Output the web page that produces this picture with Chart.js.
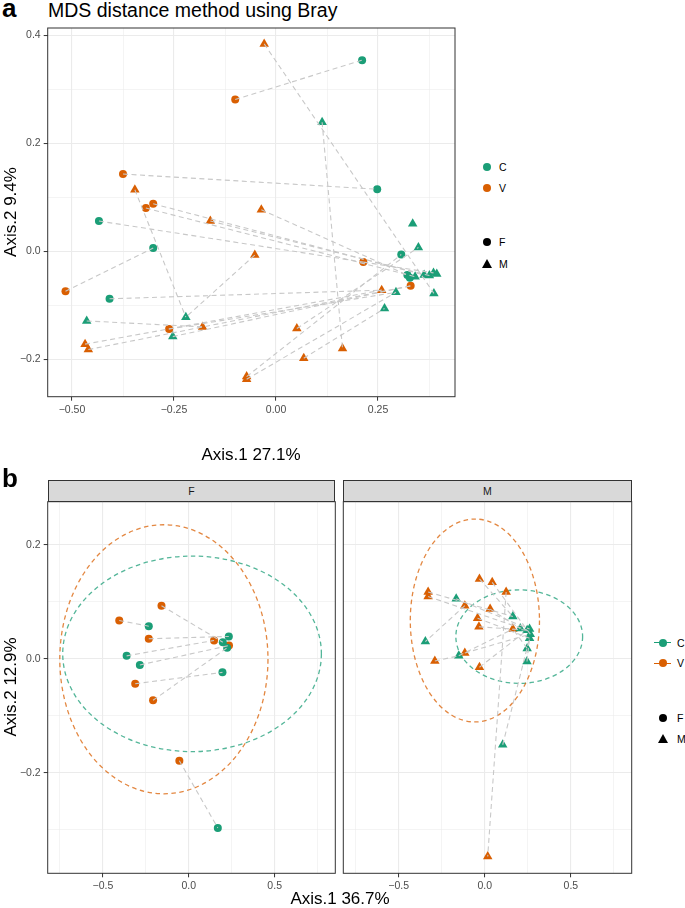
<!DOCTYPE html>
<html>
<head>
<meta charset="utf-8">
<script src="https://cdn.jsdelivr.net/npm/chart.js@4.4.1/dist/chart.umd.min.js"></script>
<style>
  body { margin: 0; width: 685px; height: 908px; position: relative; overflow: hidden; background: #fff;
         font-family: 'Liberation Sans', Arial, sans-serif; color: #000; }
  canvas, .abs { position: absolute; }
  .tag { font-weight: bold; font-size: 26px; line-height: 26px; }
  .ttl { font-size: 19.5px; line-height: 19px; white-space: nowrap; }
  .axt { font-size: 17px; line-height: 20px; height: 20px; width: 200px; text-align: center; white-space: nowrap; }
  .rot { transform: rotate(-90deg); }
  .lt { font-size: 10.5px; line-height: 12px; color: #000; }
  .dot { width: 8px; height: 8px; border-radius: 50%; }
  .tri { width: 0; height: 0; border-left: 5px solid transparent; border-right: 5px solid transparent; border-bottom: 9px solid #000; }
  .strip { background: #D9D9D9; border: 1px solid #333; box-sizing: border-box; font-size: 10.5px; color: #1A1A1A;
           text-align: center; line-height: 20px; }
</style>
</head>
<body>

<div class="abs tag" style="left:2px;top:-5px">a</div>
<div class="abs ttl" style="left:48px;top:1px">MDS distance method using Bray</div>
<canvas id="chartA" width="470" height="470" style="left:0;top:0"></canvas>
<div class="abs axt" style="left:151px;top:445px">Axis.1 27.1%</div>
<div class="abs axt rot" style="left:-89px;top:202px">Axis.2 9.4%</div>

<!-- legend a -->
<div class="abs dot" style="left:483px;top:163px;background:#1B9E77"></div>
<div class="abs lt" style="left:499px;top:161px">C</div>
<div class="abs dot" style="left:483px;top:184px;background:#D95F02"></div>
<div class="abs lt" style="left:499px;top:182px">V</div>
<div class="abs dot" style="left:483px;top:238px;background:#000"></div>
<div class="abs lt" style="left:499px;top:236px">F</div>
<div class="abs tri" style="left:482px;top:259px"></div>
<div class="abs lt" style="left:499px;top:258px">M</div>

<div class="abs tag" style="left:2px;top:465px">b</div>
<div class="abs strip" style="left:47.7px;top:480px;width:287.6px;height:22px">F</div>
<div class="abs strip" style="left:343.3px;top:480px;width:288.4px;height:22px">M</div>
<canvas id="chartF" width="340" height="438" style="left:0;top:470px"></canvas>
<canvas id="chartM" width="307" height="438" style="left:333px;top:470px"></canvas>
<div class="abs axt" style="left:240px;top:889px">Axis.1 36.7%</div>
<div class="abs axt rot" style="left:-89px;top:677px">Axis.2 12.9%</div>

<!-- legend b -->
<div class="abs" style="left:654px;top:642px;width:17px;height:1.3px;background:#1B9E77"></div>
<div class="abs dot" style="left:659px;top:639px;background:#1B9E77"></div>
<div class="abs lt" style="left:677px;top:637px">C</div>
<div class="abs" style="left:654px;top:663px;width:17px;height:1.3px;background:#D95F02"></div>
<div class="abs dot" style="left:659px;top:659px;background:#D95F02"></div>
<div class="abs lt" style="left:677px;top:657px">V</div>
<div class="abs dot" style="left:659px;top:714px;background:#000"></div>
<div class="abs lt" style="left:677px;top:712px">F</div>
<div class="abs tri" style="left:658px;top:734px"></div>
<div class="abs lt" style="left:677px;top:733px">M</div>

<script>
// ---- panel a : MDS (Bray), points as [Axis.1, Axis.2]
const aC_F = [[0.211,0.354],[0.248,0.115],[-0.434,0.056],[-0.301,0.006],[0.307,-0.006],[0.322,-0.044],[0.328,-0.049],[-0.408,-0.088]];
const aC_M = [[0.113,0.239],[0.335,0.051],[0.349,0.007],[0.341,-0.047],[0.363,-0.044],[0.376,-0.045],[0.386,-0.040],[0.394,-0.042],
              [0.387,-0.078],[0.294,-0.076],[0.266,-0.106],[-0.464,-0.129],[-0.221,-0.122],[-0.253,-0.158]];
const aV_F = [[-0.100,0.281],[-0.375,0.143],[-0.319,0.080],[-0.301,0.088],[0.214,-0.020],[0.330,-0.064],[-0.516,-0.074],[-0.262,-0.144]];
const aV_M = [[-0.029,0.384],[-0.346,0.114],[-0.036,0.077],[-0.161,0.056],[-0.052,-0.007],[0.259,-0.072],[-0.180,-0.140],
              [-0.468,-0.172],[-0.460,-0.182],[0.051,-0.143],[0.068,-0.198],[0.163,-0.180],[-0.072,-0.232],[-0.072,-0.237]];
// paired samples, [x1, y1, x2, y2]
const aLinks = [
  [-0.100,0.281,0.211,0.354],[-0.029,0.384,0.387,-0.078],[0.113,0.239,0.163,-0.180],[-0.375,0.143,0.248,0.115],
  [-0.346,0.114,-0.221,-0.122],[-0.319,0.080,0.341,-0.047],[-0.301,0.088,0.363,-0.044],[-0.036,0.077,0.322,-0.044],
  [-0.434,0.056,0.214,-0.020],[-0.161,0.056,0.376,-0.045],[-0.516,-0.074,-0.301,0.006],[-0.052,-0.007,-0.221,-0.122],
  [-0.408,-0.088,0.259,-0.072],[-0.464,-0.129,-0.180,-0.140],[-0.262,-0.144,0.294,-0.076],[-0.253,-0.158,0.330,-0.064],
  [-0.468,-0.172,0.259,-0.072],[-0.460,-0.182,0.330,-0.064],[-0.072,-0.232,0.307,-0.006],[-0.072,-0.237,0.294,-0.076],
  [0.051,-0.143,0.349,0.007],[0.068,-0.198,0.266,-0.106],[0.214,-0.020,0.386,-0.040]
];
const aXMajor = [-0.5, -0.25, 0, 0.25], aXLabels = ['\u22120.50', '\u22120.25', '0.00', '0.25'];
const aXMinor = [-0.375, -0.125, 0.125, 0.375];
const aYMajor = [-0.2, 0, 0.2, 0.4], aYLabels = ['\u22120.2', '0.0', '0.2', '0.4'];
const aYMinor = [-0.1, 0.1, 0.3];

// ---- panel b : facets F and M
const bF_C = [[-0.233,0.057],[0.233,0.039],[0.198,0.029],[0.223,0.019],[-0.362,0.005],[-0.285,-0.011],[0.196,-0.024],[0.169,-0.297]];
const bF_V = [[-0.159,0.093],[-0.405,0.067],[-0.233,0.035],[0.147,0.032],[0.234,0.023],[-0.312,-0.044],[-0.208,-0.073],[-0.055,-0.179]];
const bF_links = [
  [-0.405,0.067,-0.233,0.057],[-0.159,0.093,0.198,0.029],[-0.233,0.035,0.233,0.039],[-0.362,0.005,0.147,0.032],
  [-0.285,-0.011,0.234,0.023],[-0.312,-0.044,0.196,-0.024],[-0.208,-0.073,0.223,0.019],[-0.055,-0.179,0.169,-0.297]
];
const bM_C = [[-0.166,0.105],[0.163,0.074],[0.206,0.053],[0.246,0.050],[0.260,0.052],[0.264,0.043],[0.260,0.036],[0.246,0.018],
              [-0.345,0.030],[-0.151,0.005],[0.245,-0.005],[0.104,-0.151]];
const bM_V = [[-0.031,0.140],[0.043,0.134],[0.124,0.117],[-0.329,0.117],[-0.329,0.109],[-0.116,0.093],[0.031,0.087],
              [-0.042,0.071],[-0.034,0.056],[0.163,0.052],[-0.116,0.010],[-0.290,-0.004],[-0.031,-0.015],[0.017,-0.347]];
const bM_links = [
  [-0.329,0.117,0.163,0.074],[-0.329,0.109,0.246,0.050],[-0.166,0.105,0.260,0.052],[-0.116,0.093,-0.345,0.030],
  [-0.031,0.140,0.163,0.074],[0.043,0.134,0.264,0.043],[0.124,0.117,0.017,-0.347],[0.031,0.087,0.206,0.053],
  [-0.042,0.071,0.260,0.036],[-0.034,0.056,0.246,0.050],[-0.116,0.010,0.264,0.043],[-0.290,-0.004,-0.151,0.005],
  [-0.151,0.005,0.163,0.052],[-0.031,-0.015,0.246,0.050],[0.104,-0.151,0.260,0.036],[0.245,-0.005,0.260,0.036],
  [0.246,0.018,0.163,0.052]
];
// confidence ellipses [centre x, centre y, radius x, radius y]
const bF_ellC = [0.019, 0.0085, 0.753, 0.1715], bF_ellV = [-0.145, -0.001, 0.606, 0.236];
const bM_ellC = [0.200, 0.0387, 0.368, 0.082],  bM_ellV = [-0.0575, 0.067, 0.375, 0.178];
const bXMajor = [-0.5, 0, 0.5], bXLabels = ['\u22120.5', '0.0', '0.5'];
const bXMinor = [-0.75, -0.25, 0.25, 0.75];
const bYMajor = [-0.2, 0, 0.2], bYLabels = ['\u22120.2', '0.0', '0.2'];
const bYMinor = [-0.3, -0.1, 0.1];

const GREEN = '#1B9E77', ORANGE = '#D95F02';
const FONT = "'Liberation Sans', Arial, sans-serif";

const pts = (arr, color, style, r) => ({
  type: 'scatter',
  data: arr.map(p => ({x: p[0], y: p[1]})),
  pointStyle: style, pointRadius: r, pointBackgroundColor: color,
  pointBorderWidth: 0, pointBorderColor: color, order: 2
});

const links = arr => arr.map(s => ({
  type: 'line',
  data: [{x: s[0], y: s[1]}, {x: s[2], y: s[3]}],
  borderColor: '#C8C8C8', borderWidth: 1.1, borderDash: [5, 3.5],
  pointRadius: 0, fill: false, order: 1
}));

const near = (v, list) => list.findIndex(m => Math.abs(m - v) < 1e-9);

// an axis with labelled major ticks and unlabelled minor gridlines
const axis = (min, max, major, labels, minor, size, showLabels) => ({
  type: 'linear', min: min, max: max,
  afterBuildTicks: s => { s.ticks = major.concat(minor).sort((a, b) => a - b).map(v => ({value: v})); },
  afterFit: s => { if (s.isHorizontal()) s.height = size; else s.width = size; },
  border: {display: false},
  grid: {
    color: '#EBEBEB',
    lineWidth: c => near(c.tick.value, major) >= 0 ? 1.1 : 0.55,
    tickColor: c => (showLabels && near(c.tick.value, major) >= 0) ? '#333333' : 'rgba(0,0,0,0)',
    tickLength: 4, tickWidth: 1
  },
  ticks: {
    display: showLabels, padding: 3, autoSkip: false, maxRotation: 0,
    color: '#4D4D4D', font: {family: FONT, size: 10.5},
    callback: v => { const i = near(v, major); return i >= 0 ? labels[i] : ''; }
  }
});

const frame = {
  id: 'frame',
  afterDatasetsDraw(chart) {
    const {ctx, chartArea: a} = chart;
    ctx.save();
    ctx.strokeStyle = '#333333'; ctx.lineWidth = 1;
    ctx.strokeRect(a.left, a.top, a.right - a.left, a.bottom - a.top);
    ctx.restore();
  }
};

const ellipses = list => ({
  id: 'ellipses',
  beforeDatasetsDraw(chart) {
    const {ctx, scales: {x, y}} = chart;
    list.forEach(([e, color]) => {
      const cx = x.getPixelForValue(e[0]), cy = y.getPixelForValue(e[1]);
      const rx = Math.abs(x.getPixelForValue(e[0] + e[2]) - cx);
      const ry = Math.abs(y.getPixelForValue(e[1] + e[3]) - cy);
      ctx.save();
      ctx.strokeStyle = color; ctx.lineWidth = 1.3; ctx.setLineDash([4.5, 3.5]);
      ctx.beginPath(); ctx.ellipse(cx, cy, rx, ry, 0, 0, Math.PI * 2); ctx.stroke();
      ctx.restore();
    });
  }
});

const base = (padding, scales) => ({
  responsive: false, animation: false,
  layout: {padding: padding},
  plugins: {legend: {display: false}, tooltip: {enabled: false}},
  scales: scales
});

// panel a
new Chart(document.getElementById('chartA'), {
  type: 'scatter',
  data: {datasets: [
    ...links(aLinks),
    pts(aC_F, GREEN, 'circle', 4), pts(aV_F, ORANGE, 'circle', 4),
    pts(aC_M, GREEN, 'triangle', 5.5), pts(aV_M, ORANGE, 'triangle', 5.5)
  ]},
  options: base({left: 0, top: 28, right: 15, bottom: 0}, {
    x: axis(-0.5596, 0.4387, aXMajor, aXLabels, aXMinor, 73.3, true),
    y: axis(-0.2693, 0.4135, aYMajor, aYLabels, aYMinor, 47.7, true)
  }),
  plugins: [frame]
});

// panel b, facet F
new Chart(document.getElementById('chartF'), {
  type: 'scatter',
  data: {datasets: [
    ...links(bF_links),
    pts(bF_C, GREEN, 'circle', 4), pts(bF_V, ORANGE, 'circle', 4)
  ]},
  options: base({left: 0, top: 31.7, right: 4.7, bottom: 0}, {
    x: axis(-0.8215, 0.853, bXMajor, bXLabels, bXMinor, 34.7, true),
    y: axis(-0.3765, 0.2754, bYMajor, bYLabels, bYMinor, 47.7, true)
  }),
  plugins: [ellipses([[bF_ellC, 'rgba(27,158,119,0.75)'], [bF_ellV, 'rgba(217,95,2,0.75)']]), frame]
});

// panel b, facet M
new Chart(document.getElementById('chartM'), {
  type: 'scatter',
  data: {datasets: [
    ...links(bM_links),
    pts(bM_C, GREEN, 'triangle', 5.5), pts(bM_V, ORANGE, 'triangle', 5.5)
  ]},
  options: base({left: 0, top: 31.7, right: 8.3, bottom: 0}, {
    x: axis(-0.8215, 0.853, bXMajor, bXLabels, bXMinor, 34.7, true),
    y: axis(-0.3765, 0.2754, bYMajor, bYLabels, bYMinor, 10.3, false)
  }),
  plugins: [ellipses([[bM_ellC, 'rgba(27,158,119,0.75)'], [bM_ellV, 'rgba(217,95,2,0.75)']]), frame]
});
</script>
</body>
</html>
